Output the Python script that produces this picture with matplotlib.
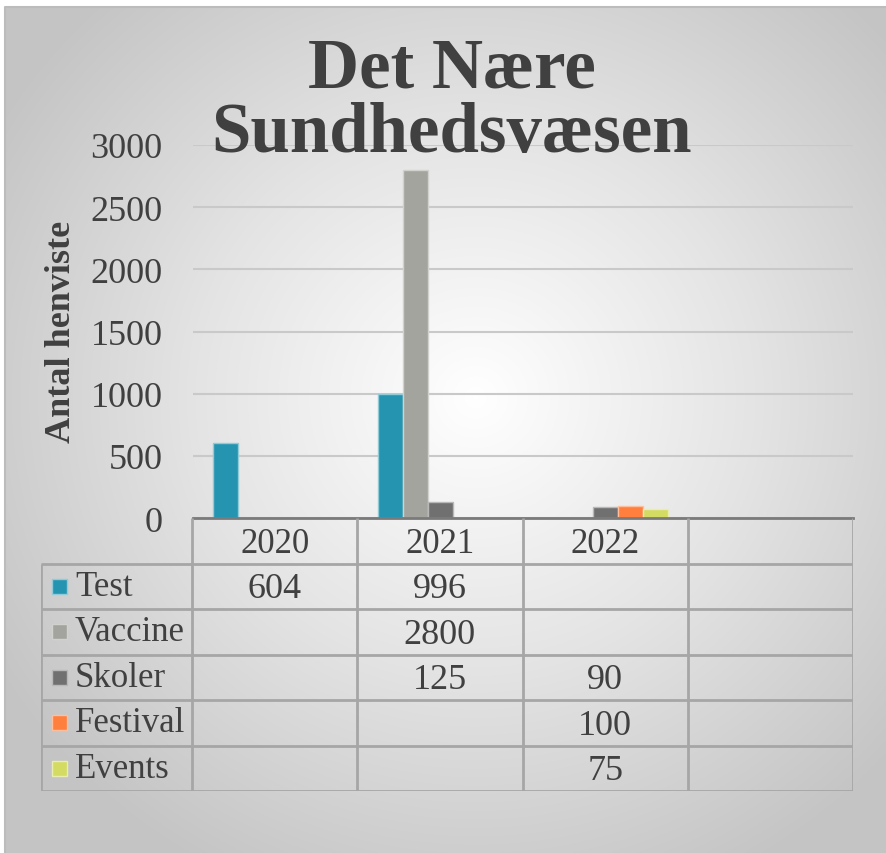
import matplotlib.pyplot as plt
import matplotlib.colors as mcolors
from matplotlib.patches import Rectangle
import numpy as np

# data
categories = ['2020', '2021', '2022', '']
series_names = ['Test', 'Vaccine', 'Skoler', 'Festival', 'Events']
test = [604, 996, None, None]
vaccine = [None, 2800, None, None]
skoler = [None, 125, 90, None]
festival = [None, None, 100, None]
events = [None, None, 75, None]
series_values = [test, vaccine, skoler, festival, events]
colors = ['#2494b0', '#a3a49e', '#707070', '#ff7f3f', '#d4db62']
yticks = [0, 500, 1000, 1500, 2000, 2500, 3000]

plt.rcParams['font.family'] = ['Liberation Serif', 'DejaVu Serif']
text_color = '#404040'

W, H = 886, 854
fig = plt.figure(figsize=(W / 100, H / 100), dpi=100)
fig.patch.set_facecolor('white')


def fx(px):
    return px / W


def fy(py):
    return 1 - py / H


# radial gradient background of the chart box
bg = fig.add_axes([fx(5), 0, fx(W - 5), fy(8)])
yy, xx = np.mgrid[0:846, 0:881]
dist = np.sqrt(((xx - 470) / 560.0) ** 2 + ((yy - 390) / 540.0) ** 2)
grad = np.clip(1 - dist, 0, 1)
cmap = mcolors.LinearSegmentedColormap.from_list('bg', ['#c4c4c4', '#e4e4e4', '#ffffff'])
bg.imshow(grad, cmap=cmap, aspect='auto', vmin=0, vmax=1, interpolation='bilinear')
bg.set_axis_off()
fig.add_artist(plt.Line2D([fx(5), fx(5), 1], [0, fy(8), fy(8)], color='#bcbcbc', lw=1.5))

# main bar chart
ax = fig.add_axes([fx(193), fy(519), fx(853 - 193), (519 - 146) / H])
ax.set_facecolor('none')
x = np.arange(len(categories))
w = 25 / 165.25
for i, (vals, c) in enumerate(zip(series_values, colors)):
    for j, v in enumerate(vals):
        if v is None:
            continue
        ax.bar(x[j] + (i - 2) * w, v, width=w, color=c,
               edgecolor=mcolors.to_hex(np.array(mcolors.to_rgb(c)) * 0.5 + 0.5), linewidth=1, zorder=3)

ax.set_xlim(-0.5, 3.5)
ax.set_ylim(0, 3000)
ax.set_yticks(yticks)
ax.set_yticklabels([str(t) for t in yticks], fontsize=26, color=text_color)
ax.tick_params(axis='y', length=0, pad=22)
ax.set_xticks([])
ax.grid(axis='y', color='#c9c9c9', lw=1.5, zorder=0)
for s in ['top', 'right', 'left']:
    ax.spines[s].set_visible(False)
ax.spines['bottom'].set_color('#7a7a7a')
ax.spines['bottom'].set_linewidth(2)
ax.spines['bottom'].set_zorder(4)

# title and axis label
fig.text(fx(452), fy(88), 'Det Nære', ha='center', va='baseline', fontsize=51,
         fontweight='bold', color=text_color)
fig.text(fx(452), fy(152), 'Sundhedsvæsen', ha='center', va='baseline', fontsize=51,
         fontweight='bold', color=text_color)
fig.text(fx(62), fy(332), 'Antal henviste', rotation=90, ha='center', va='center',
         fontsize=26, fontweight='bold', color=text_color)

# data table
left_x = -0.5 - (192 - 41) / 165.25
tab = fig.add_axes([fx(41), fy(792), fx(853 - 41), (792 - 519) / H])
tab.set_xlim(left_x, 3.5)
tab.set_ylim(6, 0)
tab.set_axis_off()
tab.patch.set_alpha(0)
line_c = '#a6a6a6'
for r in range(1, 7):
    tab.plot([left_x, 3.5], [r, r], color=line_c, lw=2, solid_capstyle='butt')
for cx in [-0.5, 0.5, 1.5, 2.5, 3.5]:
    tab.plot([cx, cx], [0, 6], color=line_c, lw=2, solid_capstyle='butt')
tab.plot([left_x, left_x], [1, 6], color=line_c, lw=2, solid_capstyle='butt')

for j, cat in enumerate(categories):
    tab.text(j, 0.55, cat, ha='center', va='center', fontsize=25, color=text_color)

sq_w = 15 / 165.25
sq_h = 15 / 45.5
for i, (name, vals, c) in enumerate(zip(series_names, series_values, colors)):
    r = i + 1
    edge = mcolors.to_hex(np.array(mcolors.to_rgb(c)) * 0.5 + 0.5)
    tab.add_patch(Rectangle((left_x + 11 / 165.25, r + 0.5 - sq_h / 2), sq_w, sq_h,
                            facecolor=c, edgecolor=edge, lw=1))
    tab.text(left_x + 34 / 165.25, r + 0.5, name, ha='left', va='center',
             fontsize=25, color=text_color)
    for j, v in enumerate(vals):
        if v is not None:
            tab.text(j, r + 0.55, str(v), ha='center', va='center',
                     fontsize=26, color=text_color)

plt.savefig('out.png', dpi=100)
